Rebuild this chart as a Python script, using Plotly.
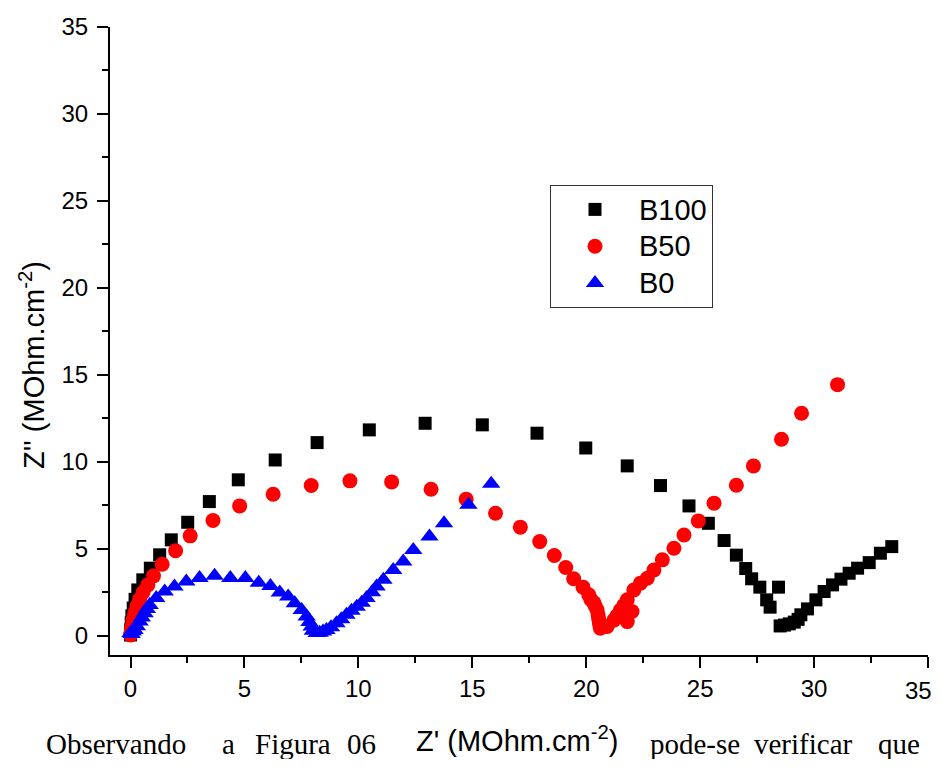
import plotly.graph_objects as go

# ---------------- data ----------------
b100_x = [0.0, 0.01, 0.03, 0.06, 0.12, 0.20, 0.32, 0.54, 0.87, 1.28, 1.79, 2.51, 3.46, 4.73,
          6.35, 8.19, 10.48, 12.93, 15.44, 17.84, 19.98, 21.80, 23.26, 24.51, 25.36, 26.05,
          26.59, 27.00, 27.26, 27.62, 27.92, 28.07, 28.44, 28.51, 28.70, 28.91, 29.13, 29.30,
          29.42, 29.71, 30.08, 30.44, 30.81, 31.18, 31.54, 31.91, 32.42, 32.91, 33.41]
b100_y = [0.05, 0.35, 0.75, 1.15, 1.60, 2.10, 2.64, 3.22, 3.89, 4.66, 5.52, 6.53, 7.72, 8.97,
          10.11, 11.11, 11.84, 12.22, 12.13, 11.65, 10.80, 9.77, 8.64, 7.47, 6.47, 5.48,
          4.64, 3.87, 3.28, 2.80, 2.07, 1.65, 2.80, 0.57, 0.62, 0.69, 0.79, 0.95,
          1.21, 1.55, 2.07, 2.55, 2.93, 3.26, 3.60, 3.89, 4.21, 4.75, 5.13]

b50_x = [0.0, 0.02, 0.05, 0.10, 0.18, 0.28, 0.40, 0.55, 0.76, 1.01, 1.39, 1.98, 2.62, 3.62,
         4.79, 6.26, 7.93, 9.63, 11.46, 13.19, 14.73, 16.02, 17.11, 17.96, 18.60, 19.10,
         19.45, 19.86, 20.11, 20.20, 20.33, 20.40, 20.48, 20.52, 20.55, 20.58, 20.62, 20.92,
         21.21, 21.35, 21.50, 21.65, 21.80, 21.80, 22.01, 22.09, 22.38, 22.68, 22.97, 23.34,
         23.85, 24.29, 24.92, 25.61, 26.59, 27.34, 28.57, 29.45, 31.03]
b50_y = [0.05, 0.20, 0.50, 0.90, 1.30, 1.70, 2.10, 2.50, 2.93, 3.45, 4.12, 4.89, 5.75, 6.63,
         7.47, 8.14, 8.64, 8.91, 8.85, 8.43, 7.86, 7.05, 6.25, 5.42, 4.62, 3.93,
         3.28, 2.80, 2.36, 2.10, 1.91, 1.70, 1.49, 1.20, 0.96, 0.70, 0.44, 0.54,
         0.90, 1.15, 1.49, 1.75, 2.07, 0.82, 1.40, 2.64, 3.03, 3.31, 3.79, 4.37,
         5.04, 5.80, 6.61, 7.63, 8.66, 9.77, 11.30, 12.80, 14.44]

b0_x = [0.0, 0.05, 0.10, 0.18, 0.28, 0.40, 0.50, 0.62, 0.72, 0.84, 1.13, 1.50, 1.93, 2.45,
        3.03, 3.69, 4.38, 5.04, 5.63, 6.14, 6.55, 6.92, 7.21, 7.51, 7.73, 7.85, 7.95, 8.00,
        8.17, 8.30, 8.45, 8.60, 8.80, 9.04, 9.25, 9.48, 9.70, 9.93, 10.15, 10.36, 10.60,
        10.80, 11.10, 11.53, 11.97, 12.41, 13.12, 13.76, 14.83, 15.83]
b0_y = [0.17, 0.10, 0.25, 0.34, 0.55, 0.82, 1.05, 1.30, 1.55, 1.78, 2.17, 2.55, 2.84, 3.12,
        3.32, 3.45, 3.32, 3.32, 3.06, 2.87, 2.49, 2.26, 1.88, 1.49, 1.11, 0.80, 0.54, 0.30,
        0.16, 0.18, 0.25, 0.34, 0.50, 0.73, 0.95, 1.21, 1.45, 1.68, 1.90, 2.17, 2.50,
        2.84, 3.22, 3.79, 4.27, 4.94, 5.71, 6.48, 7.53, 8.74]

series_names = ["B100", "B50", "B0"]
x_title = "Z' (MOhm.cm<sup>-2</sup>)"
y_title = "Z'' (MOhm.cm<sup>-2</sup>)"
tick_vals = [0, 5, 10, 15, 20, 25, 30, 35]
caption_words = ["Observando", "a", "Figura", "06", "pode-se", "verificar", "que"]

# ---------------- layout geometry ----------------
# the html page has an 8px body margin on every side: size the figure so the page is
# exactly 942x767 and convert screen pixels to figure coordinates
OFF = 8
W, H = 942 - 2 * OFF, 767 - 2 * OFF
L, T = 110 - OFF, 27 - OFF
R = W - (928 - OFF)
B = H - (655 - OFF)
PW, PH = W - L - R, H - T - B


def px_x(px):  # screen pixel -> paper x
    return (px - OFF - L) / PW


def px_y(py):  # screen pixel -> paper y
    return (H - B - (py - OFF)) / PH


def legend_label(name):
    return "<span style='font-size:29px'>" + name + "</span>"


fig = go.Figure()
fig.add_trace(go.Scatter(x=b100_x, y=b100_y, mode="markers", name=legend_label(series_names[0]),
                         marker=dict(symbol="square", size=13, color="black", line=dict(width=0))))
fig.add_trace(go.Scatter(x=b50_x, y=b50_y, mode="markers", name=legend_label(series_names[1]),
                         marker=dict(symbol="circle", size=15, color="red", line=dict(width=0))))
fig.add_trace(go.Scatter(x=b0_x, y=b0_y, mode="markers", name=legend_label(series_names[2]),
                         marker=dict(symbol="triangle-up", size=16, color="blue", line=dict(width=0))))

tick_font = dict(family="Liberation Sans, Arial", size=24, color="black")
axis_common = dict(
    showgrid=False, zeroline=False, showline=True, linecolor="black", linewidth=2,
    ticks="outside", ticklen=11, tickwidth=2, tickcolor="black",
    tickvals=tick_vals, tickfont=tick_font,
    minor=dict(ticks="outside", ticklen=6, tickwidth=2, tickcolor="black", dtick=2.5),
    mirror=False,
)
fig.update_xaxes(range=[-0.9, 35], **axis_common)
fig.update_yaxes(range=[-1.1, 35], ticklabelstandoff=4, **axis_common)

annotations = [
    dict(text=x_title, x=px_x(517), y=px_y(739), xref="paper", yref="paper",
         xanchor="center", yanchor="middle", showarrow=False,
         font=dict(family="Liberation Sans, Arial", size=29, color="black")),
    dict(text=y_title, x=px_x(32), y=px_y(365), xref="paper", yref="paper",
         xanchor="center", yanchor="middle", showarrow=False, textangle=-90,
         font=dict(family="Liberation Sans, Arial", size=29, color="black")),
    # the last x tick label would overflow the page edge (plotly hides it), so it is
    # drawn right-aligned just inside the page at the same height as the others
    dict(text=str(tick_vals[-1]), x=px_x(934), y=px_y(690), xref="paper", yref="paper",
         xanchor="right", yanchor="middle", showarrow=False, font=tick_font),
]
word_left = [44, 220, 253, 345, 648, 752, 876]
for w, xl in zip(caption_words, word_left):
    annotations.append(dict(text=w, x=px_x(xl), y=px_y(744), xref="paper", yref="paper",
                            xanchor="left", yanchor="middle", showarrow=False,
                            font=dict(family="Liberation Serif, Times New Roman", size=29,
                                      color="black")))

fig.update_layout(
    width=W, height=H,
    margin=dict(l=L, r=R, t=T, b=B, pad=0),
    paper_bgcolor="white", plot_bgcolor="white",
    showlegend=True,
    legend=dict(x=px_x(550), y=px_y(185), xanchor="left", yanchor="top",
                bordercolor="#333333", borderwidth=1, bgcolor="white",
                font=dict(family="Liberation Sans, Arial", size=26, color="black"),
                itemwidth=78, tracegroupgap=0),
    annotations=annotations,
)

fig.write_html("out.html", config={"displayModeBar": False})
